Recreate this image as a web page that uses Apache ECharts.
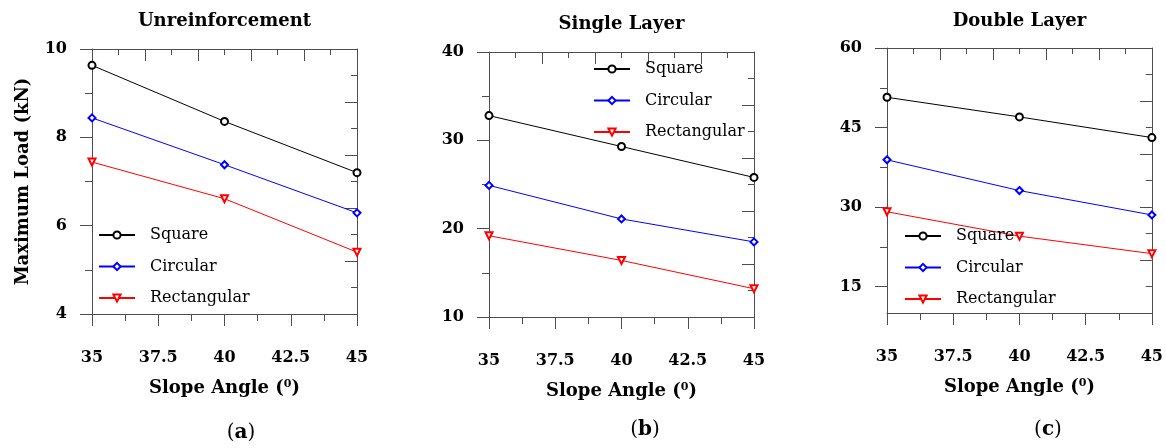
<!DOCTYPE html>
<html>
<head>
<meta charset="utf-8">
<script src="https://cdn.jsdelivr.net/npm/echarts@6/dist/echarts.min.js"></script>
<style>
  html, body { margin: 0; padding: 0; background: #fff; }
  #main { width: 1166px; height: 448px; }
</style>
</head>
<body>
<div id="main"></div>
<script>
// 坡角 (x)
const angles = [35, 40, 45];
const seriesNames = ['Square', 'Circular', 'Rectangular'];

// (a) Unreinforcement
const unreinfSquare = [9.63, 8.36, 7.20];
const unreinfCircular = [8.44, 7.38, 6.29];
const unreinfRect = [7.44, 6.61, 5.40];

// (b) Single Layer
const singleSquare = [32.8, 29.3, 25.8];
const singleCircular = [24.9, 21.1, 18.5];
const singleRect = [19.2, 16.4, 13.2];

// (c) Double Layer
const doubleSquare = [50.7, 47.0, 43.1];
const doubleCircular = [38.9, 33.1, 28.5];
const doubleRect = [29.1, 24.5, 21.2];

// 刻度
const xTicks = [35, 37.5, 40, 42.5, 45];
const yTicksA = [4, 6, 8, 10];
const yTicksB = [10, 20, 30, 40];
const yTicksC = [15, 30, 45, 60];
const yMinorC = [22.5, 37.5, 52.5];

const FONT = '"DejaVu Serif", serif';
const AXIS_COLOR = '#4d4d4d';

const panels = [
    { title: 'Unreinforcement', tag: 'a', grid: { left: 92, top: 49 }, yMin: 4, yMax: 10, yInterval: 2,
      data: [unreinfSquare, unreinfCircular, unreinfRect], legend: { left: 98, top: 227 } },
    { title: 'Single Layer', tag: 'b', grid: { left: 489, top: 52 }, yMin: 10, yMax: 40, yInterval: 10,
      data: [singleSquare, singleCircular, singleRect], legend: { left: 593, top: 61 } },
    { title: 'Double Layer', tag: 'c', grid: { left: 887, top: 48 }, yMin: 10, yMax: 60, yInterval: 15,
      data: [doubleSquare, doubleCircular, doubleRect], legend: { left: 904, top: 228 } }
];

const styles = [
    { color: '#000000', symbol: 'emptyCircle', rotate: 0 },
    { color: '#0000ff', symbol: 'emptyDiamond', rotate: 0 },
    { color: '#ff0000', symbol: 'emptyTriangle', rotate: 180 }
];

const W = 265, H = 265;

const grid = [], xAxis = [], yAxis = [], series = [], legend = [], graphic = [];

panels.forEach(function (p, i) {
    grid.push({ left: p.grid.left, top: p.grid.top, width: W, height: H });

    // 下方 x 轴
    xAxis.push({
        type: 'value', gridIndex: i, position: 'bottom',
        min: 35, max: 45, interval: 2.5,
        name: 'Slope Angle ({s|0})', nameLocation: 'middle', nameGap: 65,
        nameTextStyle: {
            fontFamily: FONT, fontSize: 18, fontWeight: 'bold', color: '#000',
            rich: { s: { fontFamily: FONT, fontSize: 11, fontWeight: 'bold', color: '#000', verticalAlign: 'top', lineHeight: 12 } }
        },
        axisLine: { show: true, onZero: false, lineStyle: { color: AXIS_COLOR, width: 1 } },
        axisTick: { show: true, inside: false, length: 12, lineStyle: { color: AXIS_COLOR } },
        minorTick: { show: true, splitNumber: 2, length: 7, lineStyle: { color: AXIS_COLOR } },
        axisLabel: { margin: 36, fontFamily: FONT, fontSize: 16, fontWeight: 'bold', color: '#000',
            customValues: xTicks },
        splitLine: { show: false }
    });
    // 上方框线
    xAxis.push({
        type: 'value', gridIndex: i, position: 'top',
        min: 0, max: 10, interval: 2,
        axisLine: { show: true, onZero: false, lineStyle: { color: AXIS_COLOR, width: 1 } },
        axisTick: { show: true, inside: true, length: 12, lineStyle: { color: AXIS_COLOR } },
        minorTick: { show: true, splitNumber: 2, length: 6, lineStyle: { color: AXIS_COLOR } },
        axisLabel: { show: false },
        splitLine: { show: false }
    });

    // 左侧 y 轴
    const yTicks = [yTicksA, yTicksB, yTicksC][i];
    const left = {
        type: 'value', gridIndex: i, position: 'left',
        min: p.yMin, max: p.yMax,
        axisLine: { show: true, onZero: false, lineStyle: { color: AXIS_COLOR, width: 1 } },
        axisTick: { show: true, inside: false, length: 12, lineStyle: { color: AXIS_COLOR } },
        axisLabel: { margin: 25, fontFamily: FONT, fontSize: 16, fontWeight: 'bold', color: '#000' },
        splitLine: { show: false }
    };
    if (i < 2) {
        left.interval = p.yInterval;
        left.minorTick = { show: true, splitNumber: 2, length: 7, lineStyle: { color: AXIS_COLOR } };
    } else {
        left.axisLabel.customValues = yTicks;
        left.axisTick.customValues = yTicks;
    }
    if (i === 0) {
        left.name = 'Maximum Load (kN)';
        left.nameLocation = 'middle';
        left.nameGap = 60;
        left.nameTextStyle = { fontFamily: FONT, fontSize: 18, fontWeight: 'bold', color: '#000' };
    }
    yAxis.push(left);
    // 右侧框线
    yAxis.push({
        type: 'value', gridIndex: i, position: 'right',
        min: 0, max: 10, interval: 2,
        axisLine: { show: true, onZero: false, lineStyle: { color: AXIS_COLOR, width: 1 } },
        axisTick: { show: true, inside: true, length: 12, lineStyle: { color: AXIS_COLOR } },
        minorTick: { show: true, splitNumber: 2, length: 6, lineStyle: { color: AXIS_COLOR } },
        axisLabel: { show: false },
        splitLine: { show: false }
    });

    const yIndex = yAxis.length - 2;
    p.data.forEach(function (vals, k) {
        series.push({
            name: seriesNames[k], type: 'line',
            xAxisIndex: i * 2, yAxisIndex: yIndex,
            data: angles.map(function (a, j) { return [a, vals[j]]; }),
            symbol: styles[k].symbol, symbolRotate: styles[k].rotate, symbolSize: 7,
            color: styles[k].color,
            lineStyle: { color: styles[k].color, width: 1 },
            itemStyle: { color: styles[k].color, borderWidth: 1 },
            animation: false
        });
    });

    legend.push({
        left: p.legend.left, top: p.legend.top, orient: 'vertical', padding: 0,
        data: seriesNames, itemWidth: 36, itemHeight: 9, itemGap: 15.5,
        selectedMode: false,
        itemStyle: { borderWidth: 1 },
        textStyle: { fontFamily: FONT, fontSize: 16, color: '#000', padding: [0, 0, 0, 10] }
    });

    const cx = p.grid.left + W / 2;
    graphic.push({
        type: 'text', x: cx, y: [21, 24, 21][i],
        style: { text: p.title, fontFamily: FONT, fontSize: 18, fontWeight: 'bold', fill: '#000',
            align: 'center', verticalAlign: 'middle' }
    });
    graphic.push({
        type: 'text', x: [241, 645, 1048][i], y: [433, 430, 430][i],
        style: { text: '({t|' + p.tag + '})', fontFamily: FONT, fontSize: 20, fill: '#000',
            align: 'center', verticalAlign: 'middle',
            rich: { t: { fontFamily: FONT, fontSize: 20, fontWeight: 'bold', fill: '#000' } } }
    });
});

// (c) 左侧次刻度
yAxis.push({
    type: 'value', gridIndex: 2, position: 'left',
    min: 10, max: 60,
    axisLine: { show: false },
    axisTick: { show: true, inside: false, length: 7, customValues: yMinorC, lineStyle: { color: AXIS_COLOR } },
    axisLabel: { show: false },
    splitLine: { show: false }
});

const myChart = echarts.init(document.getElementById('main'));
myChart.setOption({
    backgroundColor: '#fff',
    animation: false,
    grid: grid,
    xAxis: xAxis,
    yAxis: yAxis,
    legend: legend,
    graphic: graphic,
    series: series
});
</script>
</body>
</html>
